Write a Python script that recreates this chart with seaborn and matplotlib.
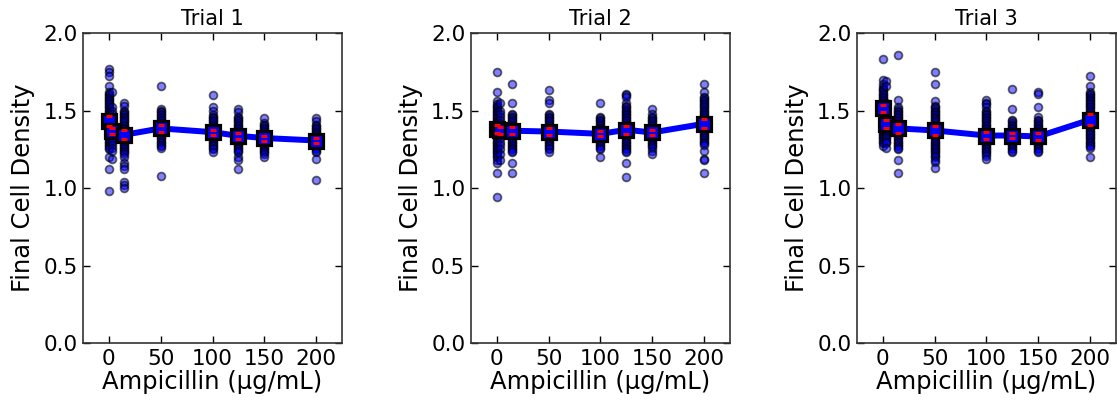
import numpy as np
import pandas as pd
import matplotlib
matplotlib.use("Agg")
import matplotlib.pyplot as plt
import seaborn as sns

conc = [0, 3, 15, 50, 100, 125, 150, 200]
titles = ["Trial 1", "Trial 2", "Trial 3"]

# individual culture densities, one list per concentration
trial1 = [
    [1.77, 1.75, 1.72, 1.66, 1.62, 1.61, 1.60, 1.59, 1.58, 1.57, 1.56, 1.55, 1.54, 1.53, 1.52, 1.51, 1.50, 1.49,
     1.48, 1.47, 1.46, 1.46, 1.45, 1.44, 1.43, 1.43, 1.42, 1.41, 1.40, 1.39, 1.38, 1.37, 1.36, 1.35, 1.34, 1.33,
     1.32, 1.31, 1.30, 1.29, 1.28, 1.27, 1.26, 1.25, 1.20, 1.12, 0.98],
    [1.62, 1.52, 1.50, 1.48, 1.46, 1.44, 1.42, 1.40, 1.39, 1.38, 1.37, 1.36, 1.35, 1.34, 1.33, 1.32, 1.31, 1.30,
     1.28, 1.26, 1.24, 1.19],
    [1.55, 1.53, 1.50, 1.49, 1.48, 1.47, 1.46, 1.45, 1.44, 1.43, 1.42, 1.41, 1.40, 1.39, 1.38, 1.37, 1.36, 1.35,
     1.34, 1.33, 1.32, 1.31, 1.30, 1.29, 1.28, 1.27, 1.26, 1.25, 1.24, 1.23, 1.22, 1.20, 1.16, 1.14, 1.12, 1.04,
     1.02, 1.00],
    [1.66, 1.51, 1.50, 1.49, 1.48, 1.47, 1.46, 1.45, 1.44, 1.43, 1.42, 1.41, 1.40, 1.39, 1.38, 1.37, 1.36, 1.35,
     1.34, 1.33, 1.32, 1.31, 1.30, 1.29, 1.28, 1.27, 1.26, 1.08],
    [1.60, 1.52, 1.50, 1.47, 1.46, 1.45, 1.44, 1.43, 1.42, 1.41, 1.40, 1.39, 1.38, 1.37, 1.36, 1.35, 1.34, 1.33,
     1.32, 1.31, 1.30, 1.29, 1.28, 1.27, 1.26, 1.25, 1.23],
    [1.51, 1.49, 1.46, 1.45, 1.44, 1.43, 1.42, 1.41, 1.40, 1.39, 1.38, 1.37, 1.36, 1.35, 1.34, 1.33, 1.32, 1.31,
     1.30, 1.29, 1.28, 1.27, 1.26, 1.25, 1.24, 1.23, 1.20, 1.18, 1.12],
    [1.45, 1.42, 1.41, 1.40, 1.39, 1.38, 1.37, 1.36, 1.35, 1.34, 1.33, 1.32, 1.31, 1.30, 1.29, 1.28, 1.27, 1.26,
     1.25, 1.24, 1.23, 1.22, 1.20],
    [1.45, 1.43, 1.41, 1.40, 1.39, 1.38, 1.37, 1.36, 1.35, 1.34, 1.33, 1.32, 1.31, 1.30, 1.29, 1.28, 1.27, 1.26,
     1.25, 1.24, 1.23, 1.19, 1.05],
]
trial2 = [
    [1.75, 1.62, 1.56, 1.54, 1.53, 1.52, 1.51, 1.50, 1.49, 1.48, 1.47, 1.46, 1.45, 1.44, 1.43, 1.42, 1.41, 1.40,
     1.39, 1.38, 1.37, 1.36, 1.35, 1.34, 1.33, 1.32, 1.31, 1.30, 1.29, 1.28, 1.27, 1.26, 1.25, 1.24, 1.23, 1.22,
     1.21, 1.20, 1.18, 1.16, 1.10, 0.94],
    [1.55, 1.50, 1.48, 1.46, 1.44, 1.42, 1.40, 1.39, 1.38, 1.37, 1.36, 1.35, 1.34, 1.32, 1.30, 1.28, 1.25, 1.22,
     1.18],
    [1.67, 1.55, 1.48, 1.47, 1.46, 1.45, 1.44, 1.43, 1.42, 1.41, 1.40, 1.39, 1.38, 1.37, 1.36, 1.35, 1.34, 1.33,
     1.32, 1.31, 1.30, 1.29, 1.28, 1.27, 1.26, 1.25, 1.24, 1.23, 1.16, 1.10],
    [1.63, 1.57, 1.55, 1.48, 1.47, 1.46, 1.45, 1.44, 1.43, 1.42, 1.41, 1.40, 1.39, 1.38, 1.37, 1.36, 1.35, 1.34,
     1.33, 1.32, 1.31, 1.30, 1.29, 1.28, 1.27, 1.26, 1.25, 1.23],
    [1.55, 1.46, 1.45, 1.44, 1.43, 1.42, 1.41, 1.40, 1.39, 1.38, 1.37, 1.36, 1.35, 1.34, 1.33, 1.32, 1.31, 1.30,
     1.29, 1.28, 1.27, 1.26, 1.25, 1.20],
    [1.61, 1.60, 1.59, 1.55, 1.53, 1.52, 1.51, 1.50, 1.49, 1.48, 1.47, 1.46, 1.45, 1.44, 1.43, 1.42, 1.41, 1.40,
     1.39, 1.38, 1.37, 1.36, 1.35, 1.34, 1.33, 1.32, 1.31, 1.30, 1.29, 1.28, 1.27, 1.26, 1.25, 1.24, 1.23, 1.16,
     1.07],
    [1.51, 1.48, 1.46, 1.45, 1.44, 1.43, 1.42, 1.41, 1.40, 1.39, 1.38, 1.37, 1.36, 1.35, 1.34, 1.33, 1.32, 1.31,
     1.30, 1.29, 1.28, 1.27, 1.26, 1.24, 1.22],
    [1.67, 1.62, 1.59, 1.58, 1.57, 1.56, 1.55, 1.54, 1.53, 1.52, 1.51, 1.50, 1.49, 1.48, 1.47, 1.46, 1.45, 1.44,
     1.43, 1.42, 1.41, 1.40, 1.39, 1.38, 1.37, 1.36, 1.35, 1.34, 1.33, 1.32, 1.31, 1.30, 1.29, 1.28, 1.24, 1.19,
     1.18, 1.10],
]
trial3 = [
    [1.83, 1.70, 1.67, 1.65, 1.64, 1.63, 1.62, 1.61, 1.60, 1.59, 1.58, 1.57, 1.56, 1.55, 1.54, 1.53, 1.52, 1.51,
     1.50, 1.49, 1.48, 1.47, 1.46, 1.45, 1.44, 1.43, 1.42, 1.41, 1.40, 1.39, 1.38, 1.37, 1.36, 1.35, 1.34, 1.33,
     1.32, 1.31, 1.30, 1.29, 1.27],
    [1.69, 1.66, 1.55, 1.50, 1.48, 1.46, 1.44, 1.43, 1.42, 1.41, 1.40, 1.39, 1.38, 1.37, 1.36, 1.35, 1.34, 1.33,
     1.32, 1.31, 1.30, 1.29, 1.26],
    [1.86, 1.57, 1.52, 1.51, 1.50, 1.49, 1.48, 1.47, 1.46, 1.45, 1.44, 1.43, 1.42, 1.41, 1.40, 1.39, 1.38, 1.37,
     1.36, 1.35, 1.34, 1.33, 1.32, 1.31, 1.30, 1.29, 1.28, 1.27, 1.26, 1.25, 1.18, 1.10],
    [1.75, 1.67, 1.56, 1.53, 1.52, 1.51, 1.50, 1.49, 1.48, 1.47, 1.46, 1.45, 1.44, 1.43, 1.42, 1.41, 1.40, 1.39,
     1.38, 1.37, 1.36, 1.35, 1.34, 1.33, 1.32, 1.31, 1.30, 1.29, 1.28, 1.27, 1.26, 1.25, 1.24, 1.23, 1.22, 1.21,
     1.20, 1.18, 1.17, 1.13],
    [1.57, 1.55, 1.54, 1.52, 1.50, 1.49, 1.48, 1.47, 1.46, 1.45, 1.44, 1.43, 1.42, 1.41, 1.40, 1.39, 1.38, 1.37,
     1.36, 1.35, 1.34, 1.33, 1.32, 1.31, 1.30, 1.29, 1.28, 1.27, 1.26, 1.25, 1.24, 1.23, 1.22, 1.21, 1.19],
    [1.64, 1.51, 1.44, 1.43, 1.42, 1.41, 1.40, 1.39, 1.38, 1.37, 1.36, 1.35, 1.34, 1.33, 1.32, 1.31, 1.30, 1.29,
     1.28, 1.27, 1.26, 1.25, 1.24, 1.23],
    [1.62, 1.61, 1.52, 1.46, 1.44, 1.43, 1.42, 1.41, 1.40, 1.39, 1.38, 1.37, 1.36, 1.35, 1.34, 1.33, 1.32, 1.31,
     1.30, 1.29, 1.28, 1.27, 1.26, 1.25, 1.24, 1.23],
    [1.72, 1.66, 1.62, 1.61, 1.60, 1.59, 1.58, 1.57, 1.56, 1.55, 1.54, 1.53, 1.52, 1.51, 1.50, 1.49, 1.48, 1.47,
     1.46, 1.45, 1.44, 1.43, 1.42, 1.41, 1.40, 1.39, 1.38, 1.37, 1.36, 1.35, 1.34, 1.33, 1.32, 1.31, 1.30, 1.29,
     1.28, 1.27, 1.26, 1.20],
]

# means and error half-widths (red dashes)
means1 = [1.434, 1.370, 1.344, 1.385, 1.361, 1.337, 1.323, 1.307]
means2 = [1.380, 1.372, 1.370, 1.365, 1.350, 1.376, 1.359, 1.415]
means3 = [1.514, 1.413, 1.385, 1.372, 1.339, 1.339, 1.333, 1.441]
err1 = [0.033, 0.020, 0.028, 0.021, 0.017, 0.020, 0.016, 0.017]
err2 = [0.024, 0.022, 0.024, 0.020, 0.016, 0.024, 0.015, 0.030]
err3 = [0.025, 0.027, 0.029, 0.031, 0.024, 0.016, 0.020, 0.037]

trials = [trial1, trial2, trial3]
means = [means1, means2, means3]
errs = [err1, err2, err3]

sns.set_style("ticks", {"xtick.direction": "in", "ytick.direction": "in"})
plt.rcParams.update({"text.color": "black", "axes.labelcolor": "black",
                     "xtick.color": "black", "ytick.color": "black"})

fig = plt.figure(figsize=(11.17, 4.07), dpi=100)
lefts = [0.0743, 0.4216, 0.7672]

for i in range(3):
    ax = fig.add_axes([lefts[i], 0.157, 0.2319, 0.7617])
    rows = []
    for c, vals in zip(conc, trials[i]):
        for v in vals:
            rows.append((c, v))
    df = pd.DataFrame(rows, columns=["conc", "density"])
    sns.scatterplot(data=df, x="conc", y="density", ax=ax, s=32, color=(0, 0, 1, 0.5),
                    edgecolor=(0, 0, 0, 0.6), linewidth=1.25, zorder=2)
    sns.lineplot(x=conc, y=means[i], ax=ax, color="blue", lw=4.3, marker="s", ms=9.5,
                 mfc="blue", mec="black", mew=2.3, zorder=3)
    m = np.array(means[i])
    e = np.array(errs[i])
    ax.plot(conc, m + e, ls="none", marker="_", color="red", ms=5, mew=2.2, zorder=4)
    ax.plot(conc, m - e, ls="none", marker="_", color="red", ms=5, mew=2.2, zorder=4)

    ax.set_xlim(-25, 225)
    ax.set_ylim(0, 2.0)
    ax.set_xticks([0, 50, 100, 150, 200])
    ax.set_yticks([0.0, 0.5, 1.0, 1.5, 2.0])
    ax.set_yticklabels(["0.0", "0.5", "1.0", "1.5", "2.0"])
    ax.tick_params(top=True, right=True, direction="in", length=5, width=1,
                   labelsize=15.5, colors="black", pad=4)
    for sp in ax.spines.values():
        sp.set_color("#333333")
        sp.set_linewidth(1.2)
    ax.set_xlabel("Ampicillin (µg/mL)", fontsize=17.5, labelpad=1)
    ax.set_ylabel("Final Cell Density", fontsize=17.5, labelpad=6)
    ax.set_title(titles[i], fontsize=15, pad=6, color="black")

fig.savefig("out.png", dpi=100)
